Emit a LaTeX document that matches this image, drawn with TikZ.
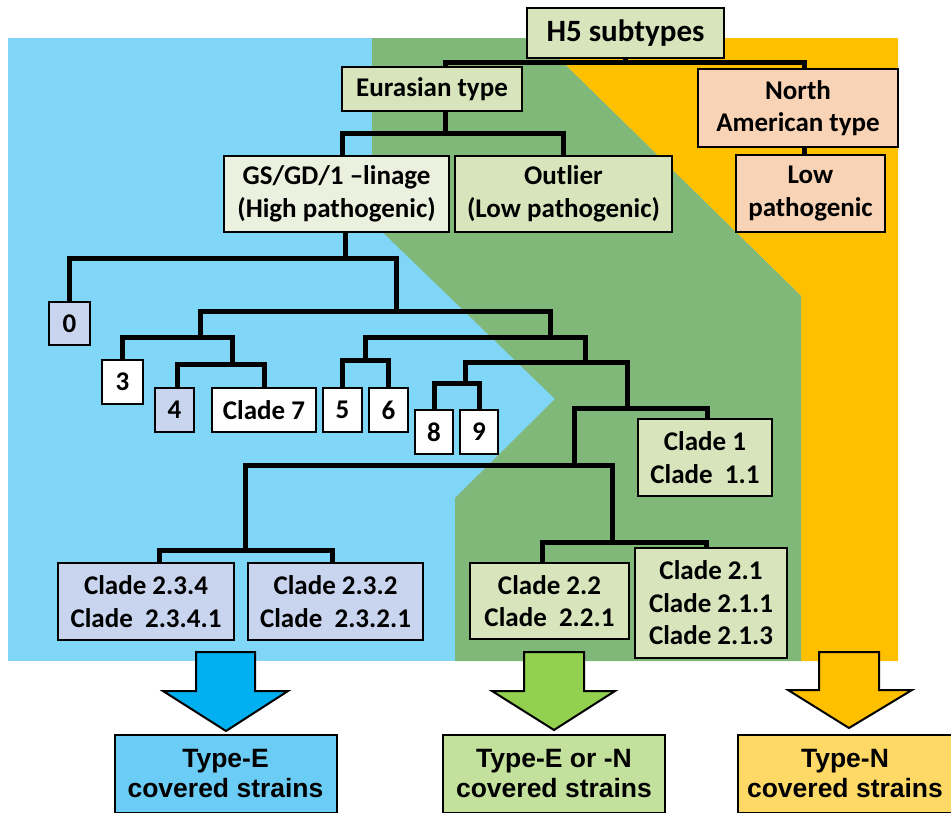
\documentclass[tikz,border=0pt]{standalone}
\usepackage{fontspec}
\setmainfont{Carlito}
\newfontfamily\arialfont{Liberation Sans}
\usetikzlibrary{calc}
\definecolor{bgblue}{HTML}{80D6F7}
\definecolor{bggreen}{HTML}{80B87A}
\definecolor{bgorange}{HTML}{FFC000}
\definecolor{boxgreen}{HTML}{D8E4BC}
\definecolor{boxpale}{HTML}{EBF1DE}
\definecolor{boxpeach}{HTML}{F9D3B5}
\definecolor{boxblue}{HTML}{C9D5EE}
\definecolor{arrblue}{HTML}{00B0F0}
\definecolor{arrgreen}{HTML}{92D050}
\definecolor{lblblue}{HTML}{6BCDF5}
\definecolor{lblgreen}{HTML}{C3E09C}
\definecolor{lblorange}{HTML}{FFD966}
\begin{document}
\begin{tikzpicture}[x=1pt,y=-1pt,
  box/.style={draw=black, line width=2.6pt, inner sep=0pt, align=center,
    font=\bfseries\fontsize{27}{32.5}\selectfont},
  tree/.style={draw=black, line width=5pt},
  lbl/.style={draw=black, line width=2pt, inner sep=0pt, align=center,
    font=\arialfont\bfseries\fontsize{26.5}{30}\selectfont},
  blockarrow/.style={draw=black, line width=2pt, line join=miter}]
\useasboundingbox (0,0) rectangle (951,812);
% backgrounds
\fill[bgblue] (8,38) rectangle (898,661);
\fill[bgorange] (538,38) -- (898,38) -- (898,661) -- (801,661) -- (801,296) -- cycle;
\fill[bggreen] (372,38) -- (538,38) -- (801,296) -- (801,661) -- (455,661)
  -- (455,498) -- (555,399) -- (372,222) -- cycle;
% boxes
\node[box, fill=boxgreen, minimum width=197, minimum height=50,
  font=\bfseries\fontsize{31}{36}\selectfont] (h5) at (625.5,33) {H5 subtypes};
\node[box, fill=boxgreen, minimum width=180, minimum height=44] (eur) at (432,89) {Eurasian type};
\node[box, fill=boxpeach, minimum width=200, minimum height=78] (na) at (798,108) {North\\American type};
\node[box, fill=boxpeach, minimum width=149, minimum height=77] (low) at (810.5,193.5) {Low\\pathogenic};
\node[box, fill=boxpale, minimum width=225, minimum height=76] (gs) at (336.5,194) {GS/GD/1 –linage\\(High pathogenic)};
\node[box, fill=boxgreen, minimum width=217, minimum height=76] (outl) at (563.5,194) {Outlier\\(Low pathogenic)};
\node[box, fill=boxblue, minimum width=41, minimum height=43] (n0) at (69.5,323.5) {0};
\node[box, fill=white, minimum width=41, minimum height=44] (n3) at (122.5,382) {3};
\node[box, fill=boxblue, minimum width=39, minimum height=44] (n4) at (174.5,410) {4};
\node[box, fill=white, minimum width=104, minimum height=44] (c7) at (264,410) {Clade 7};
\node[box, fill=white, minimum width=39, minimum height=44] (n5) at (342.5,410) {5};
\node[box, fill=white, minimum width=39, minimum height=44] (n6) at (388.5,410) {6};
\node[box, fill=white, minimum width=38, minimum height=44] (n8) at (434,432) {8};
\node[box, fill=white, minimum width=38, minimum height=44] (n9) at (479,432) {9};
\node[box, fill=boxgreen, minimum width=134, minimum height=77] (c1) at (705,457.5) {Clade 1\\Clade\ \ 1.1};
\node[box, fill=boxblue, minimum width=176, minimum height=77] (c234) at (146,601.5) {Clade 2.3.4\\Clade\ \ 2.3.4.1};
\node[box, fill=boxblue, minimum width=175, minimum height=77] (c232) at (335.5,601.5) {Clade 2.3.2\\Clade\ \ 2.3.2.1};
\node[box, fill=boxgreen, minimum width=159, minimum height=76] (c22) at (549.5,601) {Clade 2.2\\Clade\ \ 2.2.1};
\node[box, fill=boxgreen, minimum width=152, minimum height=110] (c21) at (711,603) {Clade 2.1\\Clade 2.1.1\\Clade 2.1.3};
% junctions and attachment points
\coordinate (jH5) at (625,62);
\coordinate (aEur) at (445,0);
\coordinate (aNA) at (804,0);
\coordinate (jEur) at (445,133);
\coordinate (aGS) at (342,0);
\coordinate (aLow) at (804,0);
\coordinate (jA) at (345,258);
\coordinate (jB) at (396,311);
\coordinate (jC) at (200,337);
\coordinate (jD) at (232,364);
\coordinate (a4) at (177,0);
\coordinate (jE) at (550,337);
\coordinate (jF) at (365,360);
\coordinate (jG) at (585,362);
\coordinate (jH) at (465,383);
\coordinate (jI) at (627,408);
\coordinate (a1) at (707,0);
\coordinate (jJ) at (574,465);
\coordinate (jK) at (245,550);
\coordinate (a234) at (159,0);
\coordinate (a232) at (332,0);
\coordinate (jL) at (612,542);
\coordinate (a22) at (542,0);
\coordinate (a21) at (706,0);
% tree connectors
\path[tree] (h5.south -| jH5) -- (jH5);
\path[tree] (eur.north -| aEur) |- (jH5) -| (na.north -| aNA);
\path[tree] (eur.south -| aEur) -- (jEur);
\path[tree] (gs.north -| aGS) |- (jEur) -| (outl.north);
\path[tree] (na.south -| aLow) -- (low.north -| aLow);
\path[tree] (gs.south -| jA) -- (jA);
\path[tree] (n0.north) |- (jA) -| (jB);
\path[tree] (jC) |- (jB) -| (jE);
\path[tree] (n3.north) |- (jC) -| (jD);
\path[tree] (n4.north -| a4) |- (jD) -| (c7.north);
\path[tree] (jF) |- (jE) -| (jG);
\path[tree] (n5.north) |- (jF) -| (n6.north);
\path[tree] (jH) |- (jG) -| (jI);
\path[tree] (n8.north) |- (jH) -| (n9.north);
\path[tree] (jJ) |- (jI) -| (c1.north -| a1);
\path[tree] (jK) |- (jJ) -| (jL);
\path[tree] (c234.north -| a234) |- (jK) -| (c232.north -| a232);
\path[tree] (c22.north -| a22) |- (jL) -| (c21.north -| a21);
% block arrows
\draw[blockarrow, fill=arrblue] (196,652) -- (255,652) -- (255,691) -- (288,691)
  -- (226,731) -- (163,691) -- (196,691) -- cycle;
\draw[blockarrow, fill=arrgreen] (524,652) -- (584,652) -- (584,691) -- (615,691)
  -- (554,730) -- (492,691) -- (524,691) -- cycle;
\draw[blockarrow, fill=bgorange] (819,652) -- (879,652) -- (879,690) -- (912,690)
  -- (849,728) -- (788,690) -- (819,690) -- cycle;
% bottom labels
\node[lbl, fill=lblblue, minimum width=222, minimum height=78] (tE) at (225.5,774) {Type-E\\covered strains};
\node[lbl, fill=lblgreen, minimum width=222, minimum height=78] (tEN) at (554,774) {Type-E or -N\\covered strains};
\node[lbl, fill=lblorange, minimum width=214, minimum height=78] (tN) at (845,774) {Type-N\\covered strains};
\end{tikzpicture}
\end{document}
